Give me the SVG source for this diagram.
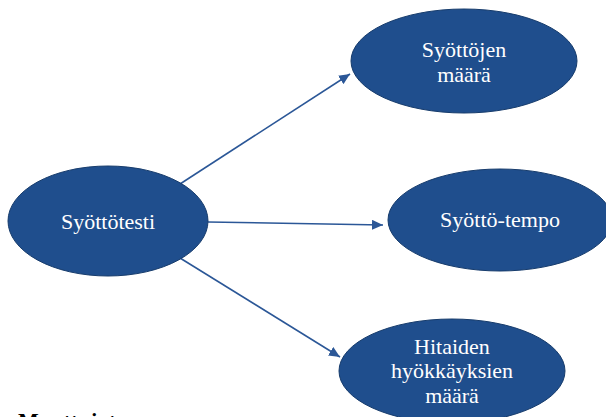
<svg xmlns="http://www.w3.org/2000/svg" width="606" height="417" viewBox="0 0 606 417">
  <style>
    .node { fill: #1f4e8d; stroke: #173c6c; stroke-width: 1; }
    .lbl { font-family: "Liberation Serif", "DejaVu Serif", serif; font-size: 22px; fill: #ffffff; text-anchor: middle; }
    .conn { stroke: #2b5797; stroke-width: 1.6; fill: none; marker-end: url(#arrow); }
    .foot { font-family: "Liberation Serif", "DejaVu Serif", serif; font-size: 22px; font-weight: bold; fill: #000000; }
  </style>
  <defs>
    <marker id="arrow" markerUnits="userSpaceOnUse" markerWidth="12" markerHeight="10" refX="11" refY="5" orient="auto">
      <path d="M0,0 L11,5 L0,10 z" fill="#2b5797"/>
    </marker>
  </defs>
  <rect width="606" height="417" fill="#ffffff"/>
  <g id="connectors">
    <line class="conn" x1="180" y1="184" x2="350" y2="74"/>
    <line class="conn" x1="208" y1="222" x2="383" y2="225"/>
    <line class="conn" x1="180" y1="258" x2="340" y2="357"/>
  </g>
  <g id="node-syottotesti">
    <ellipse class="node" cx="108" cy="221" rx="100" ry="55"/>
    <text class="lbl" x="108" y="229">Syöttötesti</text>
  </g>
  <g id="node-syottojen-maara">
    <ellipse class="node" cx="464" cy="61" rx="113" ry="52"/>
    <text class="lbl" x="464" y="57">Syöttöjen</text>
    <text class="lbl" x="464" y="82">määrä</text>
  </g>
  <g id="node-syotto-tempo">
    <ellipse class="node" cx="500" cy="220" rx="112" ry="51"/>
    <text class="lbl" x="500" y="227">Syöttö-tempo</text>
  </g>
  <g id="node-hitaiden">
    <ellipse class="node" cx="452" cy="371" rx="113" ry="52"/>
    <text class="lbl" x="452" y="354">Hitaiden</text>
    <text class="lbl" x="452" y="378">hyökkäyksien</text>
    <text class="lbl" x="452" y="403">määrä</text>
  </g>
  <text class="foot" x="18" y="428">Muuttujat</text>
</svg>
